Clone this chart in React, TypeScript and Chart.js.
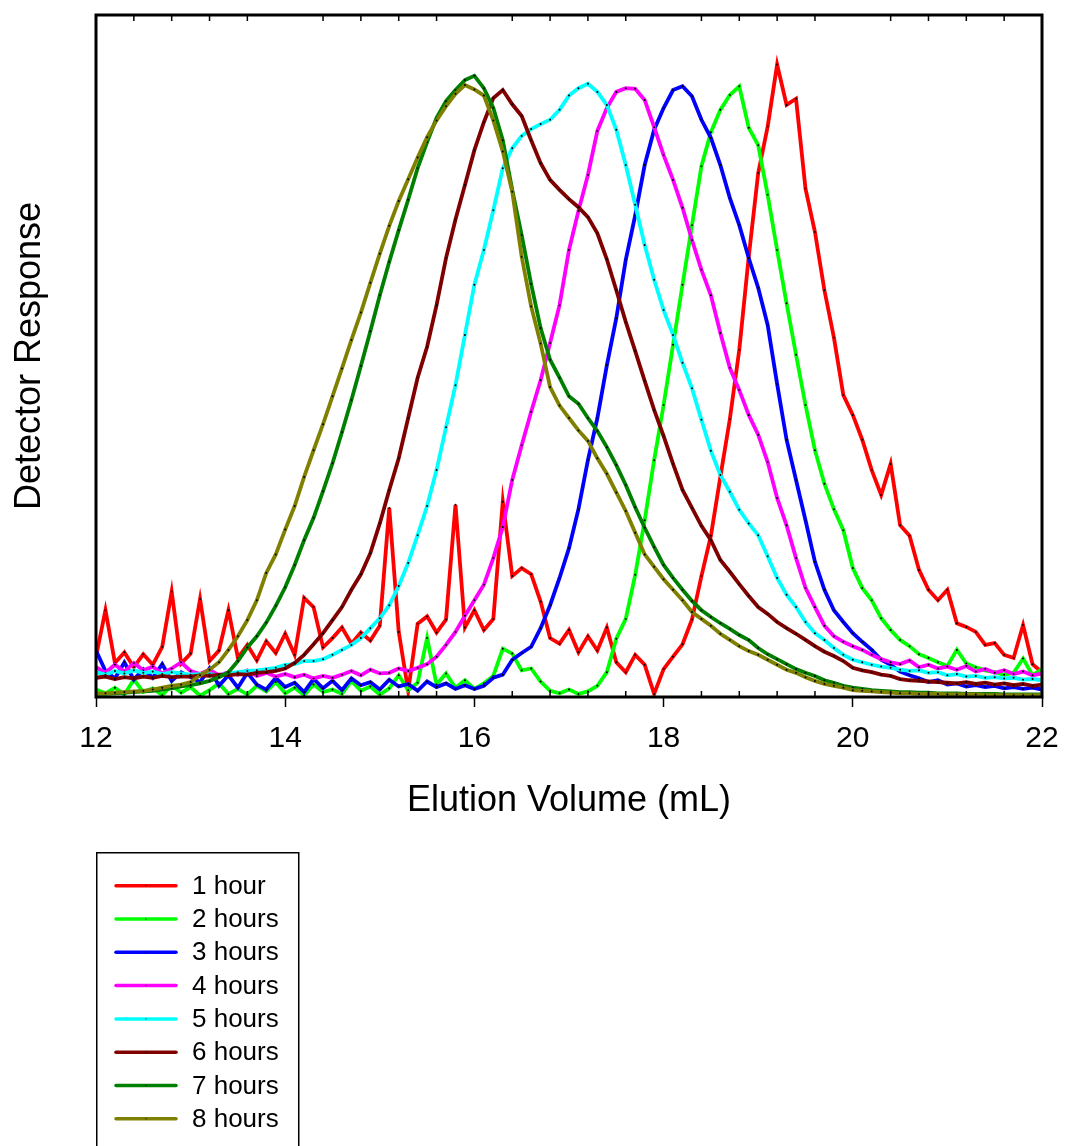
import React, { useEffect, useRef } from 'react';
import { Chart, registerables } from 'chart.js';

Chart.register(...registerables);

const FONT = "'Liberation Sans', Arial, Helvetica, sans-serif";

// Elution volume grid (mL): 12.0 to 22.0 in 0.1 mL steps
const VOLUME_START = 12;
const VOLUME_STEP = 0.1;
const X_TICKS = [12, 14, 16, 18, 20, 22];
const MINOR_STEP = 0.4;

const SERIES_LABELS = ['1 hour', '2 hours', '3 hours', '4 hours', '5 hours', '6 hours', '7 hours', '8 hours'];
const SERIES_COLORS = ['#FF0000', '#00FF00', '#0000FF', '#FF00FF', '#00FFFF', '#800000', '#008000', '#808000'];

const HOUR_1 = [
  6.5, 14.0, 5.5, 7.2, 4.8, 6.9, 5.2, 8.1, 17.0, 5.4,
  7.0, 15.8, 5.8, 7.5, 14.0, 6.3, 8.4, 5.9, 9.0, 7.1,
  10.2, 6.8, 16.0, 14.5, 8.0, 9.5, 11.2, 8.6, 10.4, 9.1,
  11.5, 30.5, 10.5, 1.0, 11.8, 13.0, 10.4, 12.5, 31.0, 11.2,
  14.0, 10.8, 12.6, 31.5, 19.5, 20.8, 19.8, 15.4, 9.5, 8.6,
  10.8, 7.2, 9.8, 7.5, 11.2, 5.6, 4.0, 6.8, 5.2, 0.5,
  4.5, 6.5, 8.5, 12.5, 19.5, 26.0, 35.5, 44.8, 56.0, 71.0,
  84.5, 92.0, 102.0, 95.5, 96.5, 82.0, 75.0, 65.6, 58.0, 48.7,
  45.5, 41.5, 36.6, 32.6, 37.6, 27.7, 26.0, 20.5, 17.3, 15.6,
  17.3, 11.9, 11.3, 10.5, 8.4, 8.7, 6.8, 6.3, 11.6, 5.3, 4.0,
];

const HOUR_2 = [
  1.2, 0.6, 1.5, 0.4, 2.8, 0.8, 1.4, 0.3, 1.9, 0.7,
  1.6, 0.2, 1.1, 2.2, 0.5, 1.3, 0.4, 1.8, 0.9, 2.4,
  0.6, 1.5, 0.3, 2.0, 0.8, 1.2, 0.5, 2.6, 1.0, 1.7,
  0.4, 1.4, 3.5, 1.1, 2.3, 9.5, 2.0, 3.8, 1.5, 2.7,
  1.3, 2.2, 3.4, 7.8, 7.0, 4.3, 4.6, 2.5, 1.0, 0.6,
  1.2, 0.5, 0.9, 1.8, 4.0, 9.4, 12.6, 19.7, 28.5, 38.2,
  47.1, 56.8, 66.5, 76.1, 85.6, 91.1, 94.7, 97.1, 98.5, 91.8,
  89.0, 81.0, 72.1, 63.5, 55.2, 47.1, 39.8, 34.4, 30.3, 26.9,
  20.8, 17.6, 15.6, 12.7, 10.8, 9.2, 8.2, 6.9, 6.3, 5.6,
  5.0, 7.6, 5.4, 4.8, 4.3, 4.0, 3.6, 3.9, 6.2, 3.5, 4.5,
];

const HOUR_3 = [
  7.5, 4.2, 3.0, 5.6, 2.8, 4.5, 3.1, 5.3, 2.6, 4.0,
  3.2, 2.4, 4.6, 1.8, 3.5, 1.5, 3.9, 2.0, 1.2, 3.1,
  1.6, 2.3, 0.8, 2.9, 1.4, 2.6, 1.1, 3.0, 1.9, 2.4,
  1.2, 2.8, 1.7, 2.1, 1.0, 2.5, 1.6, 2.2, 1.3, 1.9,
  1.3, 1.8, 3.1, 3.6, 6.0, 7.1, 8.1, 11.1, 14.8, 19.2,
  24.0, 30.3, 38.2, 45.0, 53.5, 61.1, 70.5, 77.7, 85.8, 91.5,
  95.0, 97.9, 98.5, 96.9, 93.1, 90.2, 85.8, 80.5, 76.1, 70.8,
  66.0, 60.0, 50.5, 41.5, 35.0, 28.5, 21.8, 17.3, 14.0, 12.1,
  10.3, 8.9, 7.6, 6.0, 5.2, 4.1, 3.5, 3.0, 2.4, 2.7,
  2.0, 2.2, 1.7, 1.9, 1.6, 1.8, 1.4, 1.6, 1.3, 1.5, 1.2,
];

const HOUR_4 = [
  4.8, 3.9, 5.2, 4.1, 5.5, 4.3, 4.9, 3.8, 4.6, 5.6,
  4.2, 3.7, 4.4, 3.5, 4.0, 3.6, 4.3, 3.4, 3.9, 3.3,
  3.7, 3.2, 3.6, 3.0, 3.4, 3.1, 3.6, 4.2, 3.5, 4.4,
  3.8, 3.9, 4.6, 4.2, 4.7, 5.3, 6.5, 8.4, 10.5, 13.1,
  15.6, 18.1, 22.4, 27.4, 35.0, 40.6, 46.0, 51.1, 57.1, 63.2,
  72.1, 78.4, 84.2, 91.3, 95.0, 97.6, 98.2, 98.1, 96.3, 91.9,
  87.4, 83.4, 78.9, 73.7, 68.9, 64.8, 58.7, 53.1, 49.5, 45.5,
  42.3, 37.9, 32.1, 27.7, 22.4, 17.6, 14.5, 11.5, 9.8, 8.9,
  8.2, 7.6, 6.8, 6.1, 5.6, 5.3, 5.9, 4.8, 5.2, 4.6,
  4.9, 4.4, 5.0, 4.1, 4.5, 3.9, 4.3, 3.7, 4.1, 3.5, 3.8,
];

const HOUR_5 = [
  4.0, 3.6, 4.2, 3.8, 4.3, 3.9, 4.1, 3.7, 4.0, 3.8,
  3.6, 3.7, 3.7, 3.5, 3.8, 4.0, 4.2, 4.3, 4.5, 4.7,
  5.2, 5.3, 5.8, 5.8, 6.1, 6.8, 7.6, 8.4, 9.5, 11.1,
  12.7, 14.8, 17.9, 21.6, 26.1, 30.8, 36.6, 43.5, 50.3, 58.4,
  66.5, 72.1, 78.5, 85.3, 88.5, 90.5, 91.6, 92.4, 93.1, 94.7,
  97.0, 98.2, 98.9, 97.6, 95.5, 91.5, 85.8, 79.4, 72.9, 67.3,
  62.4, 58.4, 53.9, 49.8, 44.7, 39.7, 35.8, 33.1, 30.2, 28.0,
  26.1, 22.7, 19.2, 16.5, 14.5, 12.1, 10.3, 9.2, 7.9, 6.8,
  6.0, 5.6, 5.2, 4.9, 4.7, 4.4, 4.2, 4.3, 3.9, 4.0,
  3.5, 3.7, 3.3, 3.4, 3.1, 3.2, 3.0, 3.1, 2.8, 2.9, 2.7,
];

const HOUR_6 = [
  3.1, 3.3, 2.9, 3.2, 3.0, 3.3, 3.1, 3.4, 3.2, 3.3,
  3.3, 3.5, 3.4, 3.6, 3.5, 3.7, 3.6, 3.9, 4.0, 4.2,
  4.6, 5.5, 6.8, 8.5, 10.3, 12.4, 14.5, 17.3, 19.8, 23.2,
  28.0, 33.4, 38.5, 45.0, 51.5, 56.5, 63.2, 70.8, 77.0, 82.6,
  88.2, 92.7, 96.6, 97.9, 95.6, 93.7, 89.8, 86.1, 83.4, 81.8,
  80.3, 79.0, 77.4, 74.8, 70.6, 65.6, 60.5, 55.8, 51.0, 46.3,
  42.1, 37.6, 33.4, 30.5, 27.6, 25.3, 22.1, 20.2, 18.2, 16.3,
  14.5, 13.4, 12.1, 11.1, 10.2, 9.2, 8.2, 7.3, 6.6, 5.8,
  4.7, 4.3, 4.0, 3.6, 3.4, 2.9, 2.7, 2.6, 2.5, 2.4,
  2.3, 2.2, 2.4, 2.1, 2.3, 2.0, 2.2, 1.9, 2.1, 1.8, 2.0,
];

const HOUR_7 = [
  0.5, 0.5, 0.6, 0.7, 0.8, 0.9, 1.0, 1.2, 1.4, 1.7,
  1.9, 2.2, 2.6, 3.2, 4.0, 5.8, 8.0, 9.8, 12.0, 14.7,
  17.7, 21.3, 25.3, 28.9, 33.2, 37.7, 42.7, 47.9, 53.4, 59.0,
  64.8, 70.2, 75.3, 80.2, 85.3, 89.5, 93.4, 96.1, 97.9, 99.5,
  100.2, 98.2, 95.0, 89.8, 81.8, 74.5, 66.6, 59.5, 54.4, 51.5,
  48.5, 47.3, 45.0, 42.9, 40.3, 37.4, 34.2, 30.6, 27.3, 24.2,
  21.3, 19.2, 17.3, 15.5, 14.0, 12.9, 11.9, 11.0, 10.0, 9.2,
  7.9, 6.9, 6.1, 5.3, 4.5, 3.9, 3.4, 2.7, 2.3, 1.8,
  1.5, 1.3, 1.1, 1.0, 0.9, 0.8, 0.8, 0.7, 0.7, 0.6,
  0.6, 0.6, 0.5, 0.5, 0.5, 0.5, 0.4, 0.4, 0.4, 0.4, 0.4,
];

const HOUR_8 = [
  0.6, 0.6, 0.7, 0.8, 0.9, 1.0, 1.2, 1.5, 1.8, 2.0,
  2.4, 3.5, 4.4, 5.6, 7.6, 9.8, 12.4, 15.6, 20.0, 23.0,
  27.0, 30.8, 35.5, 39.8, 44.0, 48.5, 53.0, 57.6, 62.0, 66.8,
  71.5, 76.0, 80.0, 83.5, 87.0, 90.3, 93.0, 95.3, 97.3, 98.7,
  98.0, 97.0, 93.0, 88.0, 81.5, 71.0, 63.0, 57.0, 50.0, 47.0,
  45.0, 43.0, 41.3, 38.5, 36.0, 33.0, 30.0, 26.5, 23.0, 21.0,
  19.0, 17.3, 15.6, 13.7, 12.6, 11.5, 10.2, 9.2, 8.2, 7.4,
  6.8, 6.0, 5.2, 4.4, 3.9, 3.2, 2.6, 2.1, 1.8, 1.5,
  1.1, 1.0, 0.9, 0.8, 0.7, 0.6, 0.6, 0.5, 0.5, 0.5,
  0.4, 0.4, 0.4, 0.4, 0.3, 0.3, 0.3, 0.3, 0.3, 0.3, 0.3,
];

const SERIES = [HOUR_1, HOUR_2, HOUR_3, HOUR_4, HOUR_5, HOUR_6, HOUR_7, HOUR_8];

export default function App() {
  const canvasRef = useRef<HTMLCanvasElement | null>(null);

  useEffect(() => {
    document.body.style.margin = '0';
    const canvas = canvasRef.current;
    if (!canvas) return;

    const datasets = SERIES.map((vals, i) => ({
      label: SERIES_LABELS[i],
      data: vals.map((v, j) => ({ x: +(VOLUME_START + j * VOLUME_STEP).toFixed(2), y: v })),
      borderColor: SERIES_COLORS[i],
      backgroundColor: SERIES_COLORS[i],
      borderWidth: 3.8,
      pointRadius: 1,
      pointHoverRadius: 0,
      pointBorderWidth: 0,
      pointBackgroundColor: '#000000',
      tension: 0,
      fill: false,
      order: SERIES.length - i,
    }));

    const framePlugin = {
      id: 'frameAndLegend',
      afterDraw(chart: any) {
        const ctx = chart.ctx as CanvasRenderingContext2D;
        const { left, top, right, bottom } = chart.chartArea;
        const xs = chart.scales.x;
        ctx.save();
        // frame
        ctx.strokeStyle = '#000';
        ctx.lineWidth = 3;
        ctx.strokeRect(left, top, right - left, bottom - top);
        // minor ticks (inside) top & bottom
        ctx.lineWidth = 1.5;
        const xmin = xs.min, xmax = xs.max;
        const n = Math.round((xmax - xmin) / MINOR_STEP);
        for (let k = 1; k < n; k++) {
          const v = xmin + k * MINOR_STEP;
          if (X_TICKS.some((t) => Math.abs(t - v) < 1e-6)) continue;
          const px = xs.getPixelForValue(v);
          ctx.beginPath();
          ctx.moveTo(px, bottom);
          ctx.lineTo(px, bottom - 6);
          ctx.moveTo(px, top);
          ctx.lineTo(px, top + 6);
          ctx.stroke();
        }
        // legend box
        const bx0 = 96.75, by0 = 852.75, bx1 = 298.75;
        ctx.lineWidth = 1.5;
        ctx.beginPath();
        ctx.moveTo(bx0, chart.height + 2);
        ctx.lineTo(bx0, by0);
        ctx.lineTo(bx1, by0);
        ctx.lineTo(bx1, chart.height + 2);
        ctx.stroke();
        ctx.font = `26px ${FONT}`;
        ctx.textBaseline = 'middle';
        ctx.textAlign = 'left';
        SERIES_LABELS.forEach((lab, i) => {
          const y = 885.7 + i * 33.3;
          ctx.strokeStyle = SERIES_COLORS[i];
          ctx.lineWidth = 3.5;
          ctx.lineCap = 'round';
          ctx.beginPath();
          ctx.moveTo(116, y);
          ctx.lineTo(176, y);
          ctx.stroke();
          ctx.fillStyle = '#000';
          ctx.fillRect(145.5, y - 0.5, 1, 1);
          ctx.fillText(lab, 192, y + 1);
        });
        ctx.restore();
      },
    };

    const chart = new Chart(canvas, {
      type: 'line',
      data: { datasets },
      options: {
        responsive: false,
        animation: false,
        devicePixelRatio: 1,
        layout: { padding: { left: 8, right: 23, top: 15, bottom: 323 } },
        plugins: {
          legend: { display: false },
          tooltip: { enabled: false },
        },
        events: [],
        scales: {
          x: {
            type: 'linear',
            min: 12,
            max: 22,
            afterBuildTicks: (s: any) => {
              s.ticks = X_TICKS.map((v) => ({ value: v }));
            },
            ticks: {
              font: { family: FONT, size: 30 },
              color: '#000',
              padding: 14,
              maxRotation: 0,
              autoSkip: false,
            },
            grid: {
              display: true,
              drawOnChartArea: false,
              drawTicks: true,
              tickLength: 10,
              tickWidth: 1.5,
              tickColor: '#000',
            },
            border: { display: false },
            title: {
              display: true,
              text: 'Elution Volume (mL)',
              font: { family: FONT, size: 36 },
              color: '#000',
              padding: 0,
            },
            afterFit: (s: any) => {
              s.height = 126;
              s.paddingLeft = 0;
              s.paddingRight = 0;
            },
          },
          y: {
            type: 'linear',
            min: 0,
            max: 110,
            ticks: { display: false },
            grid: { display: false },
            border: { display: false },
            title: {
              display: true,
              text: 'Detector Response',
              font: { family: FONT, size: 36 },
              color: '#000',
              padding: 0,
            },
            afterFit: (s: any) => {
              s.width = 88;
              s.paddingTop = 0;
              s.paddingBottom = 0;
            },
          },
        },
      } as any,
      plugins: [framePlugin],
    });

    return () => chart.destroy();
  }, []);

  return <canvas ref={canvasRef} width={1065} height={1146} style={{ display: 'block' }} />;
}
